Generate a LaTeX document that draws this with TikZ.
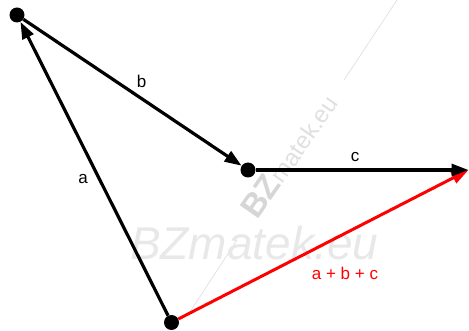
\documentclass[tikz,border=0pt]{standalone}
\usepackage{fontspec}
\setmainfont{Liberation Sans}
\usetikzlibrary{arrows.meta}
\definecolor{wmline}{HTML}{E2E2E2}
\definecolor{wmtext}{HTML}{E0E0E0}
\definecolor{wmbig}{HTML}{E8E8E8}
\definecolor{wmbold}{HTML}{D6D6D6}
\definecolor{vecred}{HTML}{FF0000}
\tikzset{
  dot/.style={circle,fill=black,inner sep=0pt,minimum size=15pt},
  vec/.style={line width=3.2pt,-{Triangle[length=17pt,width=12pt]}},
  lbl/.style={font=\fontsize{17}{20}\selectfont,inner sep=0pt},
  wmrot/.style={rotate=55,anchor=base west,inner sep=0pt},
}
\begin{document}
\begin{tikzpicture}[x=1pt,y=-1pt]
\useasboundingbox (0,0) rectangle (469,331);
% watermark
\draw[wmline,line width=0.8pt] (397,0) -- (344,80);
\draw[wmline,line width=0.8pt] (237,240) -- (188,315);
\node[text=wmbig,anchor=base west,inner sep=0pt,font=\fontsize{46}{50}\selectfont\itshape] (wm1) at (130,260) {BZmatek.eu};
\node[wmrot,text=wmbold,font=\fontsize{33}{36}\selectfont\bfseries] (wmB) at (257,221) {BZ};
\node[wmrot,text=wmtext,font=\fontsize{24}{28}\selectfont] (wmM) at (wmB.base east) {matek.eu};
% points
\node[dot] (A) at (17,15) {};
\node[dot] (B) at (248,170) {};
\node[dot] (C) at (171.5,322.5) {};
\coordinate (D) at (468.5,170);
% vectors
\draw[vec,vecred,line width=3pt] (C) -- (D);
\draw[vec] (C) -- (A);
\draw[vec] (A) -- (B);
\draw[vec] (B) -- (D);
% labels
\node[lbl] (la) at (83,179) {a};
\node[lbl] (lb) at (141.5,81) {b};
\node[lbl] (lc) at (355,157) {c};
\node[lbl,text=vecred] (ls) at (345,273) {a + b + c};
\end{tikzpicture}
\end{document}
